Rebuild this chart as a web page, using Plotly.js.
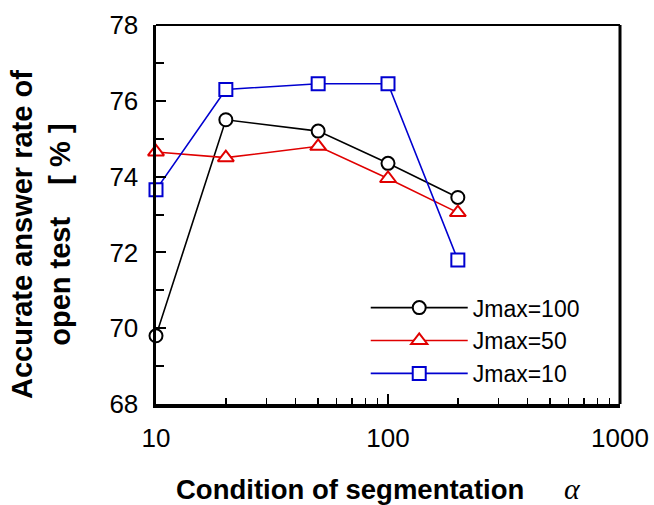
<!DOCTYPE html>
<html>
<head>
<meta charset="utf-8">
<script src="https://cdn.plot.ly/plotly-3.0.1.min.js"></script>
<style>html,body{margin:0;padding:0;background:#fff;}#chart{width:654px;height:505px;}</style>
</head>
<body>
<div id="chart"></div>
<script>
const alphaValues = [10, 20, 50, 100, 200];
const jmax100 = [69.8, 75.5, 75.2, 74.35, 73.45];
const jmax50 = [74.65, 74.5, 74.8, 73.95, 73.05];
const jmax10 = [73.65, 76.3, 76.45, 76.45, 71.8];
const seriesNames = ['Jmax=100', 'Jmax=50', 'Jmax=10'];
const xTitle = 'Condition of segmentation';
const xTitleSymbol = 'α';
const yTitleLine1 = 'Accurate answer rate of';
const yTitleLine2 = 'open test\u00a0\u00a0\u00a0\u00a0[ % ]';

const FONT = 'Liberation Sans, Arial, sans-serif';

function trace(y, name, color, symbol, size) {
  return {
    x: alphaValues, y: y, name: name, type: 'scatter', mode: 'lines+markers',
    line: {color: color, width: 1.6},
    marker: {symbol: symbol, size: size, color: '#ffffff', line: {color: color, width: 2}},
    cliponaxis: false
  };
}

const data = [
  trace(jmax100, seriesNames[0], '#000000', 'circle', 13),
  trace(jmax50, seriesNames[1], '#e00000', 'triangle-up', 14),
  trace(jmax10, seriesNames[2], '#0000d0', 'square', 13)
];

const layout = {
  width: 654, height: 505,
  margin: {l: 156, r: 34, t: 25, b: 101},
  paper_bgcolor: '#fff', plot_bgcolor: '#fff',
  font: {family: FONT, color: '#000', size: 26},
  showlegend: true,
  legend: {
    x: 0.452, y: 0.311, xanchor: 'left', yanchor: 'top',
    bgcolor: 'rgba(0,0,0,0)', font: {size: 23, family: FONT},
    itemwidth: 97, tracegroupgap: 0
  },
  xaxis: {
    type: 'log', range: [1, 3], dtick: 1, exponentformat: 'none',
    showgrid: false, zeroline: false,
    showline: true, linewidth: 3.5, linecolor: '#000',
    ticks: 'inside', ticklen: 10, tickwidth: 2, tickcolor: '#000',
    ticklabelstandoff: 8,
    tickfont: {size: 26, family: FONT},
    minor: {ticks: 'inside', ticklen: 6, tickwidth: 1.5, tickcolor: '#000', dtick: 'D1', showgrid: false}
  },
  yaxis: {
    range: [68, 78], tick0: 68, dtick: 2,
    showgrid: false, zeroline: false,
    showline: true, linewidth: 3.5, linecolor: '#000',
    ticks: 'inside', ticklen: 10, tickwidth: 2, tickcolor: '#000',
    ticklabelstandoff: 9,
    tickfont: {size: 26, family: FONT},
    minor: {ticks: 'inside', ticklen: 8, tickwidth: 2, tickcolor: '#000', dtick: 1, showgrid: false}
  },
  shapes: [
    {type: 'line', xref: 'paper', yref: 'paper', x0: 0, x1: 1, y0: 1, y1: 1, line: {color: '#000', width: 2}},
    {type: 'line', xref: 'paper', yref: 'paper', x0: 1, x1: 1, y0: 0, y1: 1, line: {color: '#000', width: 3}}
  ],
  annotations: [
    {xref: 'paper', yref: 'paper', x: (174 - 156) / 464, y: -0.226, xanchor: 'left', yanchor: 'middle',
     text: '<b>' + xTitle + '</b>', showarrow: false, font: {size: 27.5, family: FONT}},
    {xref: 'paper', yref: 'paper', x: (562 - 156) / 464, y: -0.224, xanchor: 'left', yanchor: 'middle',
     text: '<i>' + xTitleSymbol + '</i>', showarrow: false, font: {size: 30, family: 'Liberation Serif, Times New Roman, serif'}},
    {xref: 'paper', yref: 'paper', x: (41 - 156) / 464, y: (404 - 235) / 379, xanchor: 'center', yanchor: 'middle',
     textangle: -90, text: '<b>' + yTitleLine1 + '<br>' + yTitleLine2 + '</b>', showarrow: false,
     font: {size: 29, family: FONT}}
  ]
};

Plotly.newPlot('chart', data, layout, {displayModeBar: false, staticPlot: true});
</script>
</body>
</html>
